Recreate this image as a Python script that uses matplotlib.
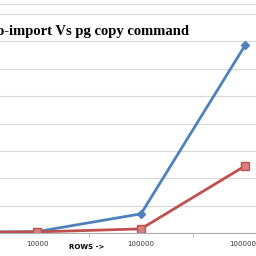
import matplotlib
matplotlib.use('Agg')
import matplotlib.pyplot as plt
from matplotlib.lines import Line2D

rows = ['1000', '10000', '100000', '1000000']
import_time = [0.02, 0.05, 0.70, 6.85]
copy_time = [0.02, 0.04, 0.15, 2.45]

title = 'o-import Vs pg copy command'
x_label = 'ROWS ->'

fig = plt.figure(figsize=(2.56, 2.56), dpi=100)
ax = fig.add_axes([0, 23 / 256, 1, 219 / 256])

x = range(len(rows))
ax.plot(x, import_time, color='#4F81BD', lw=2, marker='D', ms=4,
        markerfacecolor='#4F81BD', markeredgecolor='#4F81BD')
ax.plot(x, copy_time, color='#C0504D', lw=2, marker='s', ms=5.5,
        markerfacecolor='#D9807E', markeredgecolor='#C0504D')

ax.set_yticks(range(0, 9))
ax.yaxis.grid(True, color='#d8d8d8', lw=0.8)
ax.set_axisbelow(True)
ax.set_xticks([i + 0.5 for i in range(len(rows))], minor=True)
ax.set_xticks(list(x))
ax.set_xticklabels(rows, fontsize=5, family='DejaVu Sans', color='#333333')
ax.tick_params(axis='x', which='major', length=0, pad=6)
ax.tick_params(axis='x', which='minor', length=3, color='#b0b0b0', direction='out')
ax.tick_params(axis='y', length=0, labelleft=False)
ax.set_xlim(1 - 37 / 104, 1 + (256 - 37) / 104)
ax.set_ylim(0, 8)
for s in ['top', 'right', 'left']:
    ax.spines[s].set_visible(False)
ax.spines['bottom'].set_color('#b0b0b0')

fig.text(0.34, 9 / 256, x_label, fontsize=5, fontweight='bold', ha='center', va='center')
fig.text(-0.01, 1 - 31 / 256, title, fontsize=10.5, fontweight='bold',
         family='Liberation Serif', ha='left', va='center',
         bbox=dict(facecolor='white', edgecolor='none', pad=1))
fig.add_artist(Line2D([0, 1], [1 - 4 / 256, 1 - 4 / 256], color='#d8d8d8', lw=0.8))

fig.savefig('out.png', dpi=100)
